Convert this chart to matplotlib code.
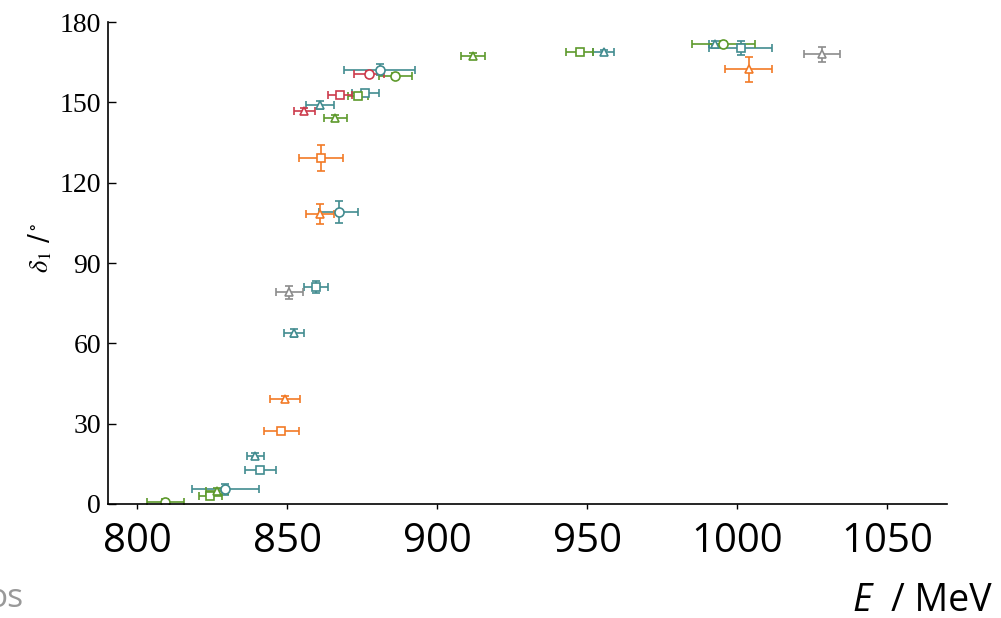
import numpy as np
import matplotlib.pyplot as plt

plt.rcParams['mathtext.fontset'] = 'stix'

# phase shift delta_1 versus energy, one list group per data set
teal_c_E = [880.9, 867.2, 829.4]
teal_c_dE = [11.8, 6.5, 11.2]
teal_c_d = [162.2, 109.0, 5.5]
teal_c_dd = [2.0, 4.0, 2.0]

teal_s_E = [876.1, 859.7, 841.1, 1001.3]
teal_s_dE = [4.4, 4.0, 5.2, 10.5]
teal_s_d = [153.5, 81.0, 12.7, 170.3]
teal_s_dd = [1.2, 2.3, 1.2, 2.5]

teal_t_E = [861.1, 852.4, 839.4, 955.5, 992.6]
teal_t_dE = [4.7, 3.3, 2.8, 3.6, 2.0]
teal_t_d = [149.1, 63.8, 18.1, 168.7, 172.0]
teal_t_dd = [1.5, 1.5, 1.0, 1.0, 1.0]

green_c_E = [886.1, 809.4, 995.5]
green_c_dE = [5.4, 6.1, 10.6]
green_c_d = [159.9, 0.9, 172.0]
green_c_dd = [1.0, 0.8, 1.0]

green_s_E = [873.7, 824.4, 947.5]
green_s_dE = [3.3, 3.8, 4.6]
green_s_d = [152.5, 3.0, 169.0]
green_s_dd = [1.0, 1.0, 1.0]

green_t_E = [866.1, 826.7, 912.0]
green_t_dE = [3.9, 3.6, 3.9]
green_t_d = [144.1, 4.9, 167.4]
green_t_dd = [1.2, 1.0, 1.0]

red_c_E, red_c_dE, red_c_d, red_c_dd = [877.2], [5.0], [160.6], [1.0]
red_s_E, red_s_dE, red_s_d, red_s_dd = [867.5], [4.0], [152.6], [1.0]
red_t_E, red_t_dE, red_t_d, red_t_dd = [855.8], [3.5], [146.9], [1.2]

orange_s_E = [861.3, 848.1]
orange_s_dE = [7.2, 5.8]
orange_s_d = [129.2, 27.4]
orange_s_dd = [4.9, 1.0]

orange_t_E = [860.9, 849.4, 1003.9]
orange_t_dE = [4.7, 5.0, 7.9]
orange_t_d = [108.4, 39.2, 162.4]
orange_t_dd = [3.7, 1.0, 4.7]

gray_t_E = [850.8, 1028.3]
gray_t_dE = [4.6, 5.9]
gray_t_d = [79.0, 168.0]
gray_t_dd = [2.5, 2.8]

teal = '#428c90'
green = '#5e9a2c'
red = '#cc3b4c'
orange = '#f27a26'
gray = '#8c8c8c'

sets = [
    (teal_c_E, teal_c_dE, teal_c_d, teal_c_dd, 'o', teal),
    (teal_s_E, teal_s_dE, teal_s_d, teal_s_dd, 's', teal),
    (teal_t_E, teal_t_dE, teal_t_d, teal_t_dd, '^', teal),
    (green_c_E, green_c_dE, green_c_d, green_c_dd, 'o', green),
    (green_s_E, green_s_dE, green_s_d, green_s_dd, 's', green),
    (green_t_E, green_t_dE, green_t_d, green_t_dd, '^', green),
    (red_c_E, red_c_dE, red_c_d, red_c_dd, 'o', red),
    (red_s_E, red_s_dE, red_s_d, red_s_dd, 's', red),
    (red_t_E, red_t_dE, red_t_d, red_t_dd, '^', red),
    (orange_s_E, orange_s_dE, orange_s_d, orange_s_dd, 's', orange),
    (orange_t_E, orange_t_dE, orange_t_d, orange_t_dd, '^', orange),
    (gray_t_E, gray_t_dE, gray_t_d, gray_t_dd, '^', gray),
]

fig = plt.figure(figsize=(10.01, 6.18), dpi=100)
ax = fig.add_axes([0.1079, 0.1845, 0.8381, 0.7797])

for E, dE, d, dd, m, c in sets:
    ax.errorbar(E, d, xerr=dE, yerr=dd, fmt=m, color=c, mfc='white', mec=c,
                ms=6.5 if m == 'o' else 5.8, mew=1.2, elinewidth=1.2,
                capsize=2.6, capthick=1.2)

ax.set_xlim(790.3, 1070)
ax.set_ylim(0, 180)
ax.set_xticks([800, 850, 900, 950, 1000, 1050])
ax.set_yticks([0, 30, 60, 90, 120, 150, 180])
ax.spines['top'].set_visible(False)
ax.spines['right'].set_visible(False)
for s in ['left', 'bottom']:
    ax.spines[s].set_linewidth(1.2)
ax.tick_params(axis='y', direction='in', length=6, width=1, pad=5)
ax.tick_params(axis='x', direction='out', length=3.5, width=1, pad=9)
for lab in ax.get_yticklabels():
    lab.set_fontfamily('Liberation Serif')
    lab.set_fontsize(20)
for lab in ax.get_xticklabels():
    lab.set_fontfamily('Open Sans')
    lab.set_fontsize(29)

ax.set_ylabel(r'$\delta_1$ /$^\circ$', fontsize=19)
ax.yaxis.set_label_coords(-0.064, 0.531)

fig.text(992 / 1001, 7 / 618, '/ MeV', fontsize=27, family='Open Sans',
         ha='right', va='baseline')
fig.text(872 / 1001, 7 / 618, 'E', fontsize=27, family='Open Sans',
         style='italic', ha='right', va='baseline')
fig.text(23 / 1001, 11 / 618, 'os', fontsize=24, family='Open Sans',
         color='#999999', ha='right', va='baseline')

fig.savefig('out.png', dpi=100)
